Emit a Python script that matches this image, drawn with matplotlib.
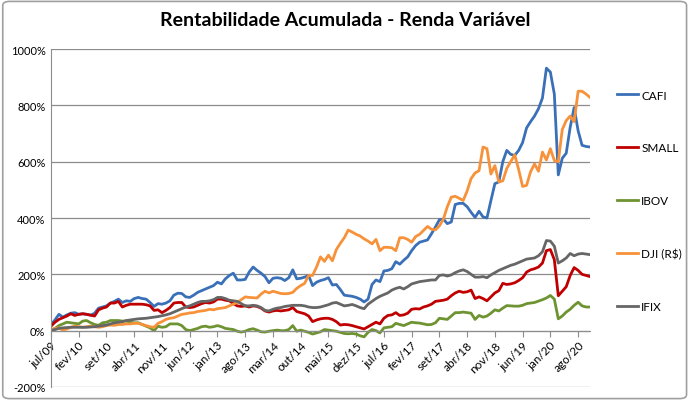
import matplotlib.pyplot as plt
from matplotlib.patches import FancyBboxPatch
from matplotlib.ticker import FuncFormatter

plt.rcParams['font.family'] = ['Lato', 'DejaVu Sans']

# meses de jul/09 a nov/20
meses = ['jan', 'fev', 'mar', 'abr', 'mai', 'jun', 'jul', 'ago', 'set', 'out', 'nov', 'dez']
datas = []
for k in range(137):
    m = (6 + k) % 12
    a = 9 + (6 + k) // 12
    datas.append(meses[m] + '/' + str(a).zfill(2))

cafi = [22, 38, 58, 48, 56, 62, 64, 58, 60, 58, 55, 62, 80, 84, 88, 98, 104, 112, 100, 106,
        104, 114, 118, 114, 112, 100, 86, 96, 94, 98, 106, 126, 133, 132, 120, 118, 126, 136, 142, 148,
        154, 160, 172, 166, 184, 196, 204, 180, 180, 182, 208, 226, 214, 204, 192, 170, 186, 188, 186, 178,
        188, 216, 184, 186, 190, 196, 160, 172, 178, 182, 188, 162, 164, 146, 126, 124, 122, 118, 112, 102,
        112, 164, 180, 174, 212, 214, 220, 245, 236, 250, 262, 284, 302, 314, 318, 322, 344, 368, 394, 396,
        380, 386, 448, 452, 452, 440, 420, 402, 424, 404, 400, 462, 522, 528, 600, 640, 626, 622, 640, 668,
        720, 742, 762, 788, 826, 932, 918, 840, 553, 612, 630, 722, 792, 710, 658, 654, 652]

small = [16, 30, 40, 46, 52, 60, 54, 58, 60, 58, 55, 52, 74, 80, 84, 98, 98, 104, 84, 90,
         94, 94, 94, 94, 92, 88, 72, 74, 64, 72, 82, 98, 100, 100, 84, 82, 84, 90, 96, 100,
         98, 102, 112, 112, 108, 106, 96, 88, 86, 88, 84, 88, 86, 80, 70, 66, 70, 72, 70, 72,
         74, 82, 68, 64, 60, 52, 32, 38, 42, 44, 44, 40, 32, 20, 22, 21, 18, 14, 10, 6,
         14, 22, 30, 24, 44, 54, 56, 64, 54, 56, 62, 76, 78, 77, 84, 88, 94, 104, 106, 108,
         112, 124, 134, 140, 136, 138, 144, 114, 120, 114, 106, 120, 134, 142, 168, 164, 166, 170, 178, 188,
         208, 216, 220, 226, 240, 284, 288, 252, 124, 140, 156, 196, 224, 214, 200, 196, 192]

ibov = [0, 8, 18, 24, 30, 28, 26, 24, 34, 36, 28, 22, 19, 28, 30, 36, 36, 36, 34, 34,
        30, 28, 28, 22, 16, 10, 0, 16, 12, 14, 24, 24, 24, 18, 4, 0, 4, 8, 14, 16,
        12, 14, 18, 14, 8, 6, 4, -2, -5, -2, 4, 7, 2, -4, -5, -2, 0, 2, 0, 0,
        4, 18, -2, 2, -2, -6, -12, -8, -4, 4, 2, 0, -2, -6, -10, -11, -10, -12, -18, -22,
        -6, 4, 0, -8, 10, 12, 14, 26, 22, 18, 24, 30, 28, 27, 24, 21, 22, 28, 44, 42,
        40, 52, 64, 64, 66, 64, 62, 40, 54, 48, 52, 62, 74, 70, 80, 89, 88, 87, 87, 90,
        96, 98, 100, 105, 110, 116, 125, 112, 42, 52, 66, 76, 90, 101, 88, 84, 84]

dji = [4, 8, 10, 2, 6, 12, 16, 14, 12, 14, 16, 14, 12, 14, 18, 20, 19, 22, 22, 24,
       24, 26, 26, 22, 18, 14, 12, 26, 32, 40, 44, 46, 52, 58, 60, 63, 64, 68, 70, 72,
       76, 74, 78, 80, 82, 88, 94, 100, 110, 120, 118, 117, 116, 130, 140, 134, 140, 136, 132, 131,
       132, 136, 150, 160, 168, 196, 196, 226, 262, 246, 268, 248, 288, 310, 330, 357, 350, 342, 336, 326,
       318, 308, 324, 284, 296, 296, 294, 284, 330, 330, 324, 314, 334, 342, 356, 370, 360, 358, 372, 396,
       440, 474, 477, 470, 462, 496, 540, 560, 568, 652, 646, 556, 586, 528, 532, 576, 600, 624, 572, 512,
       516, 564, 592, 566, 634, 606, 646, 604, 600, 714, 746, 762, 742, 850, 850, 840, 828]

ifix = [0, 4, 8, 10, 11, 12, 12, 12, 12, 12, 13, 14, 16, 18, 20, 24, 28, 30, 32, 36,
        38, 40, 42, 43, 44, 46, 48, 50, 53, 56, 60, 66, 72, 78, 84, 88, 94, 100, 104, 104,
        106, 110, 118, 118, 114, 108, 106, 104, 96, 88, 88, 90, 88, 82, 72, 70, 76, 80, 82, 86,
        88, 90, 90, 90, 88, 84, 82, 82, 84, 88, 92, 98, 100, 94, 88, 90, 93, 88, 82, 78,
        94, 104, 114, 122, 128, 134, 144, 150, 154, 148, 156, 166, 170, 174, 176, 178, 180, 180, 196, 198,
        194, 198, 206, 212, 216, 210, 200, 190, 190, 192, 188, 198, 206, 214, 220, 226, 232, 236, 242, 248,
        254, 256, 258, 266, 280, 320, 318, 300, 240, 248, 258, 274, 266, 272, 274, 272, 270]

series = [('CAFI', cafi, '#3a70b8'),
          ('SMALL', small, '#c00000'),
          ('IBOV', ibov, '#6e9331'),
          ('DJI (R$)', dji, '#f7923a'),
          ('IFIX', ifix, '#666666')]

fig = plt.figure(figsize=(6.9, 4.02), dpi=100)
ax = fig.add_axes([51 / 690, 1 - 388 / 402, (590 - 51) / 690, (388 - 50) / 402])

x = list(range(len(datas)))
for nome, vals, cor in series:
    ax.plot(x, vals, color=cor, lw=2.0, label=nome, solid_joinstyle='round')

ax.set_xlim(0, len(datas) - 1)
ax.set_ylim(-200, 1000)
ax.set_yticks(range(-200, 1001, 200))
ax.yaxis.set_major_formatter(FuncFormatter(lambda v, p: '%d%%' % v))
ax.grid(axis='y', color='#8c8c8c', lw=0.9)
ax.set_axisbelow(True)

ax.spines['top'].set_visible(False)
ax.spines['right'].set_visible(False)
ax.spines['left'].set_color('#8c8c8c')
ax.spines['bottom'].set_color('#8c8c8c')
ax.spines['bottom'].set_position(('data', 0))

pos = list(range(0, len(datas), 7))
ax.set_xticks(pos)
ax.set_xticklabels([datas[p] for p in pos], rotation=45, ha='right',
                   rotation_mode='anchor', fontsize=8.5)
ax.tick_params(axis='x', direction='out', length=4, color='#8c8c8c', pad=2)
ax.tick_params(axis='y', length=0, labelsize=8, pad=4)

fig.text(0.5, 1 - 21 / 402, 'Rentabilidade Acumulada - Renda Variável', ha='center', va='center',
         fontsize=14, fontweight='bold')

fig.legend(loc='center left', bbox_to_anchor=(617 / 690, 1 - 202 / 402), frameon=False,
           fontsize=8.5, labelspacing=3.55, handlelength=1.8, handletextpad=0.25,
           borderpad=0, borderaxespad=0)

fig.patches.append(FancyBboxPatch((0.004, 0.006), 0.991, 0.988, boxstyle='round,pad=0,rounding_size=0.01',
                                  transform=fig.transFigure, fill=False, ec='#a0a0a0', lw=1.2))

fig.savefig('out.png', dpi=100)
